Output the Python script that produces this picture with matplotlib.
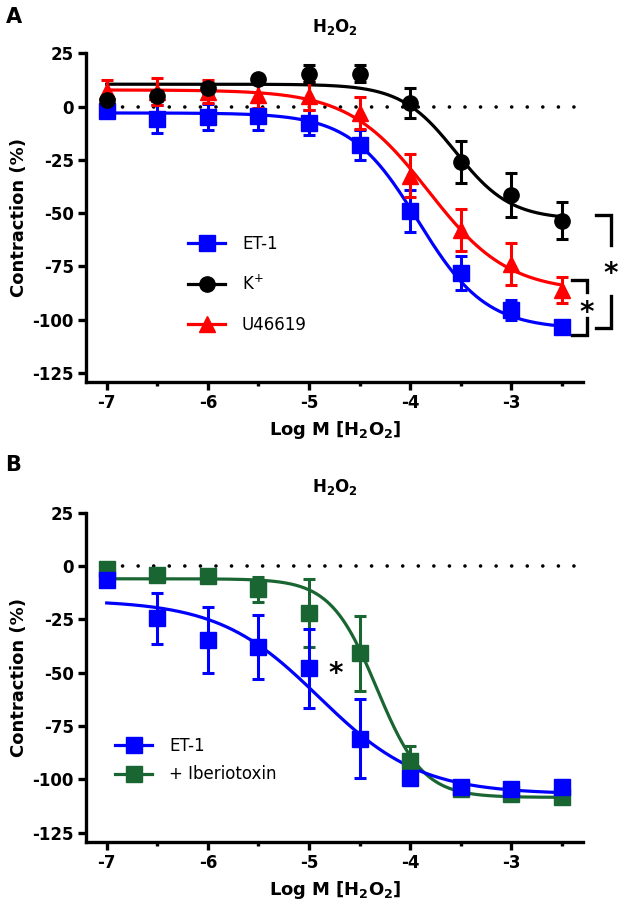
import numpy as np
import matplotlib
matplotlib.use('Agg')
import matplotlib.pyplot as plt
from matplotlib.lines import Line2D

plt.rcParams['font.family'] = ['DejaVu Sans']
plt.rcParams['mathtext.fontset'] = 'dejavusans'
plt.rcParams['axes.unicode_minus'] = False

# log concentrations of H2O2
log_conc = [-7, -6.5, -6, -5.5, -5, -4.5, -4, -3.5, -3, -2.5]

# panel A: mean and SEM
a_et1 = [-2, -6, -5, -4.5, -7.5, -18, -49, -78, -95.5, -103.5]
a_et1_err = [2, 6.5, 6, 6.5, 6, 7, 10, 8, 4.5, 3]
a_k = [3, 5, 8.5, 13, 15.5, 15.5, 1.5, -26, -41.5, -53.5]
a_k_err = [2, 2.5, 2.5, 2, 4, 4, 7, 10, 10.5, 8.5]
a_u46 = [7.5, 7, 7, 5.5, 5, -3, -32.5, -58, -74, -86]
a_u46_err = [5, 6.5, 5.5, 6, 6.5, 7.5, 10, 10, 10, 6]

# panel B: mean and SEM
b_et1 = [-6.5, -24.5, -34.5, -38, -48, -81, -99.5, -103.5, -104.5, -103.5]
b_et1_err = [3, 12, 15.5, 15, 18.5, 18.5, 3, 2.5, 2.5, 3]
b_ibtx = [-1.5, -4, -4.5, -11, -22, -41, -91.5, -104.5, -107, -108.5]
b_ibtx_err = [1.5, 1.5, 1.5, 6, 16, 17.5, 7, 2, 2, 1.5]

# fitted sigmoid parameters: top, bottom, logEC50, hill slope
fit_a_et1 = [-3, -104.5, -3.92, 1.3]
fit_a_k = [10.5, -53, -3.55, 1.6]
fit_a_u46 = [7.8, -87, -3.82, 1.1]
fit_b_et1 = [-16, -107, -4.9, 0.87]
fit_b_ibtx = [-6, -108.5, -4.33, 1.9]

BLUE = '#0000ff'
RED = '#ff0000'
BLACK = '#000000'
GREEN = '#1a6633'
MS = 11


def sigmoid(x, p):
    top, bottom, ec50, hill = p
    return bottom + (top - bottom) / (1 + 10 ** ((x - ec50) * hill))


def draw_series(ax, y, err, fit, color, marker):
    xx = np.linspace(log_conc[0], log_conc[-1], 300)
    ax.plot(xx, sigmoid(xx, fit), color=color, lw=2.3, zorder=2)
    ax.errorbar(log_conc, y, yerr=err, fmt=marker, color=color, ms=MS,
                elinewidth=2.2, capsize=4.5, capthick=2.2, zorder=3)


def style_axes(ax):
    ax.set_xlim(-7.2, -2.29)
    ax.set_ylim(-129.3, 25)
    ax.set_yticks([-125, -100, -75, -50, -25, 0, 25])
    ax.set_xticks([-7, -6, -5, -4, -3])
    ax.set_xticks([-6.5, -5.5, -4.5, -3.5, -2.5], minor=True)
    ax.spines['top'].set_visible(False)
    ax.spines['right'].set_visible(False)
    ax.spines['left'].set_linewidth(2.4)
    ax.spines['bottom'].set_linewidth(2.4)
    ax.tick_params(which='major', length=6, width=2.4, labelsize=12, pad=3)
    ax.tick_params(which='minor', length=3, width=2.4)
    for lab in ax.get_xticklabels() + ax.get_yticklabels():
        lab.set_fontweight('bold')
    ax.plot([-7.0, -2.29], [0, 0], color='black', lw=2.6,
            linestyle=(0, (0.01, 4.3)), dash_capstyle='round', zorder=1)
    ax.set_xlabel(r'$\mathbf{Log\ M\ [H_2O_2]}$', fontsize=13, labelpad=5)
    ax.set_ylabel('Contraction (%)', fontsize=13, fontweight='bold', labelpad=3)
    ax.set_title(r'$\mathbf{H_2O_2}$', fontsize=12, pad=15)


fig = plt.figure(figsize=(6.2, 9.16), dpi=100)
ax_a = fig.add_axes([0.1395, 0.583, 0.8008, 0.3588])
ax_b = fig.add_axes([0.1395, 0.0811, 0.8008, 0.3592])

# panel A
draw_series(ax_a, a_et1, a_et1_err, fit_a_et1, BLUE, 's')
draw_series(ax_a, a_u46, a_u46_err, fit_a_u46, RED, '^')
draw_series(ax_a, a_k, a_k_err, fit_a_k, BLACK, 'o')
style_axes(ax_a)

handles_a = [
    Line2D([], [], color=BLUE, marker='s', ms=MS, lw=2.3),
    Line2D([], [], color=BLACK, marker='o', ms=MS, lw=2.3),
    Line2D([], [], color=RED, marker='^', ms=MS, lw=2.3),
]
ax_a.legend(handles_a, ['ET-1', r'K$^{+}$', 'U46619'], loc='center left',
            bbox_to_anchor=(0.204, 0.2975), frameon=False, fontsize=12,
            handlelength=2.25, handletextpad=1.0, labelspacing=1.3,
            borderpad=0, borderaxespad=0)

# significance brackets (inner: ET-1 vs U46619, outer: ET-1 vs K+)
brackets = [
    # x_left, x_vert, y_top, y_gap_top, y_gap_bottom, y_bottom, y_star
    (-2.396, -2.254, -81.6, -87.2, -99.1, -107.1, -94.1),
    (-2.165, -2.017, -50.8, -64.9, -89.1, -103.9, -75.8),
]
for xl, xv, yt, g1, g2, yb, ys in brackets:
    ax_a.plot([xl, xv, xv], [yt, yt, g1], color='black', lw=2.4,
              clip_on=False, solid_joinstyle='miter')
    ax_a.plot([xv, xv, xl], [g2, yb, yb], color='black', lw=2.4,
              clip_on=False, solid_joinstyle='miter')
    ax_a.text(xv, ys - 3, '*', fontsize=20, fontweight='bold',
              ha='center', va='center', clip_on=False)

# panel B
draw_series(ax_b, b_ibtx, b_ibtx_err, fit_b_ibtx, GREEN, 's')
draw_series(ax_b, b_et1, b_et1_err, fit_b_et1, BLUE, 's')
style_axes(ax_b)
ax_b.text(-4.74, -47.5 - 3, '*', fontsize=20, fontweight='bold',
          ha='center', va='center')

handles_b = [
    Line2D([], [], color=BLUE, marker='s', ms=MS, lw=2.3),
    Line2D([], [], color=GREEN, marker='s', ms=MS, lw=2.3),
]
ax_b.legend(handles_b, ['ET-1', '+ Iberiotoxin'], loc='center left',
            bbox_to_anchor=(0.057, 0.248), frameon=False, fontsize=12,
            handlelength=2.25, handletextpad=1.0, labelspacing=0.63,
            borderpad=0, borderaxespad=0)

fig.text(0.009, 0.981, 'A', fontsize=15, fontweight='bold', va='center')
fig.text(0.009, 0.492, 'B', fontsize=15, fontweight='bold', va='center')

fig.savefig('out.png', dpi=100)
